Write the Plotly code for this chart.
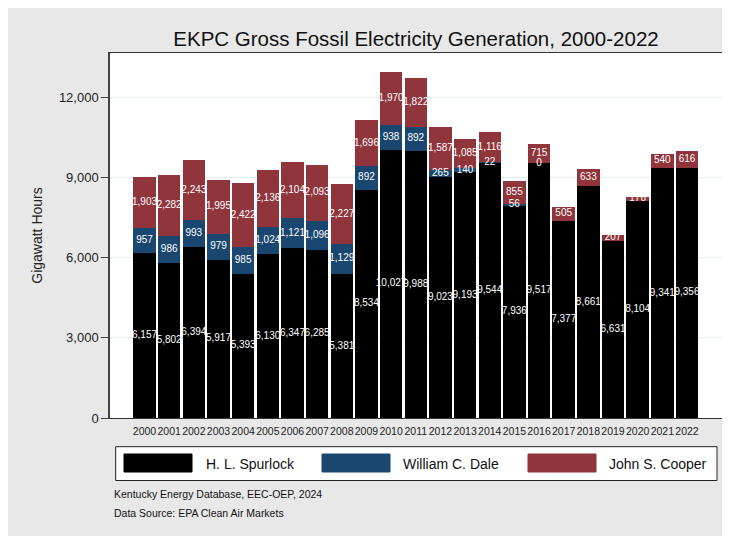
import plotly.graph_objects as go

# ---------------- data ----------------
years = list(range(2000, 2023))
year_labels = [str(y) for y in years]

spurlock = [6157, 5802, 6394, 5917, 5393, 6130, 6347, 6285, 5381, 8534, 10027, 9988,
            9023, 9193, 9544, 7936, 9517, 7377, 8661, 6631, 8104, 9341, 9356]
dale = [957, 986, 993, 979, 985, 1024, 1121, 1096, 1129, 892, 938, 892,
        265, 140, 22, 56, 0, None, None, None, None, None, None]
cooper = [1903, 2282, 2243, 1995, 2422, 2136, 2104, 2093, 2227, 1696, 1970, 1822,
          1587, 1085, 1116, 855, 715, 505, 633, 207, 176, 540, 616]

series_names = ["H. L. Spurlock", "William C. Dale", "John S. Cooper"]
y_tick_vals = [0, 3000, 6000, 9000, 12000]
y_tick_text = ["0", "3,000", "6,000", "9,000", "12,000"]

title_text = "EKPC Gross Fossil Electricity Generation, 2000-2022"
y_title = "Gigawatt Hours"
notes = ["Kentucky Energy Database, EEC-OEP, 2024", "Data Source: EPA Clean Air Markets"]

# ---------------- style ----------------
colors = ["#000000", "#1A476F", "#90353B"]
W, H = 730, 536
OFF = 8  # page (body) margin offset of the figure on screen
ML, MT = 102, 45
MR, MB = 16, 126
PW, PH = W - ML - MR, H - MT - MB
FONT = "Liberation Sans, Arial, sans-serif"
GRAY = "#E8E8E8"


def px_x(p):  # screen x -> paper
    return (p - OFF - ML) / PW


def px_y(p):  # screen y -> paper
    return (H - MB - (p - OFF)) / PH


fig = go.Figure()

series = [spurlock, dale, cooper]
bases = []
running = [0] * len(years)
for vals in series:
    bases.append(list(running))
    running = [r + (v or 0) for r, v in zip(running, vals)]

for name, vals, col in zip(series_names, series, colors):
    fig.add_trace(go.Bar(
        x=years, y=vals, name=name, marker=dict(color=col, line=dict(width=0)),
        showlegend=False, hoverinfo="x+y+name"))

# value labels centred in each segment
for vals, base in zip(series, bases):
    xs, ys, ts = [], [], []
    for yr, v, b in zip(years, vals, base):
        if v is None:
            continue
        xs.append(yr)
        ys.append(b + v / 2)
        ts.append(f"{v:,}")
    fig.add_trace(go.Scatter(
        x=xs, y=ys, text=ts, mode="text", textposition="middle center",
        textfont=dict(color="white", size=10, family=FONT),
        showlegend=False, hoverinfo="skip", cliponaxis=False))

shapes = [
    # legend box
    dict(type="rect", xref="paper", yref="paper", x0=px_x(115.7), x1=px_x(717), y0=px_y(480.5),
         y1=px_y(446.7), fillcolor="white", line=dict(color="#222222", width=1)),
]
annotations = []
sw_x = [124, 322, 528]
tx_x = [204, 401, 607]
for name, col, sx, tx in zip(series_names, colors, sw_x, tx_x):
    shapes.append(dict(type="rect", xref="paper", yref="paper", x0=px_x(sx), x1=px_x(sx + 68),
                       y0=px_y(472), y1=px_y(454), fillcolor=col, line=dict(color=col, width=1)))
    annotations.append(dict(xref="paper", yref="paper", x=px_x(tx), y=px_y(463.5), text=name,
                            showarrow=False, xanchor="left", yanchor="middle",
                            font=dict(size=14, color="#111111", family=FONT)))
for i, t in enumerate(notes):
    annotations.append(dict(xref="paper", yref="paper", x=px_x(112), y=px_y(494 + 18.5 * i), text=t,
                            showarrow=False, xanchor="left", yanchor="middle",
                            font=dict(size=10.5, color="#111111", family=FONT)))

fig.update_layout(
    width=W, height=H,
    margin=dict(l=ML, r=MR, t=MT, b=MB, pad=0, autoexpand=False),
    paper_bgcolor=GRAY, plot_bgcolor="white",
    barmode="stack", bargap=0.09,
    font=dict(family=FONT, color="#111111"),
    title=dict(text=title_text, x=px_x(416), xref="paper", xanchor="center",
               y=1 - (39 - OFF) / H, yanchor="middle", font=dict(size=20.5, color="#111111")),
    xaxis=dict(range=[years[0] - 1.40, years[-1] + 1.42], tickmode="array", tickvals=years,
               ticktext=year_labels, tickfont=dict(size=10.5, color="#222222"), tickangle=0,
               automargin=False, ticklabelstandoff=3,
               showgrid=False, zeroline=False, showline=True, linecolor="#333333",
               linewidth=1, mirror=True, ticks="", fixedrange=True),
    yaxis=dict(range=[0, 13645], tickmode="array", tickvals=y_tick_vals, ticktext=y_tick_text,
               tickfont=dict(size=13, color="#222222"), ticks="outside", ticklen=7,
               tickcolor="#444444", showgrid=True, gridcolor="#E4EEF0", gridwidth=1,
               automargin=False,
               zeroline=False, showline=True, linecolor="#444444", linewidth=1.5, mirror=True,
               title=dict(text=y_title, font=dict(size=14, color="#222222"), standoff=13)),
    shapes=shapes, annotations=annotations,
)

fig.write_html("out.html")
